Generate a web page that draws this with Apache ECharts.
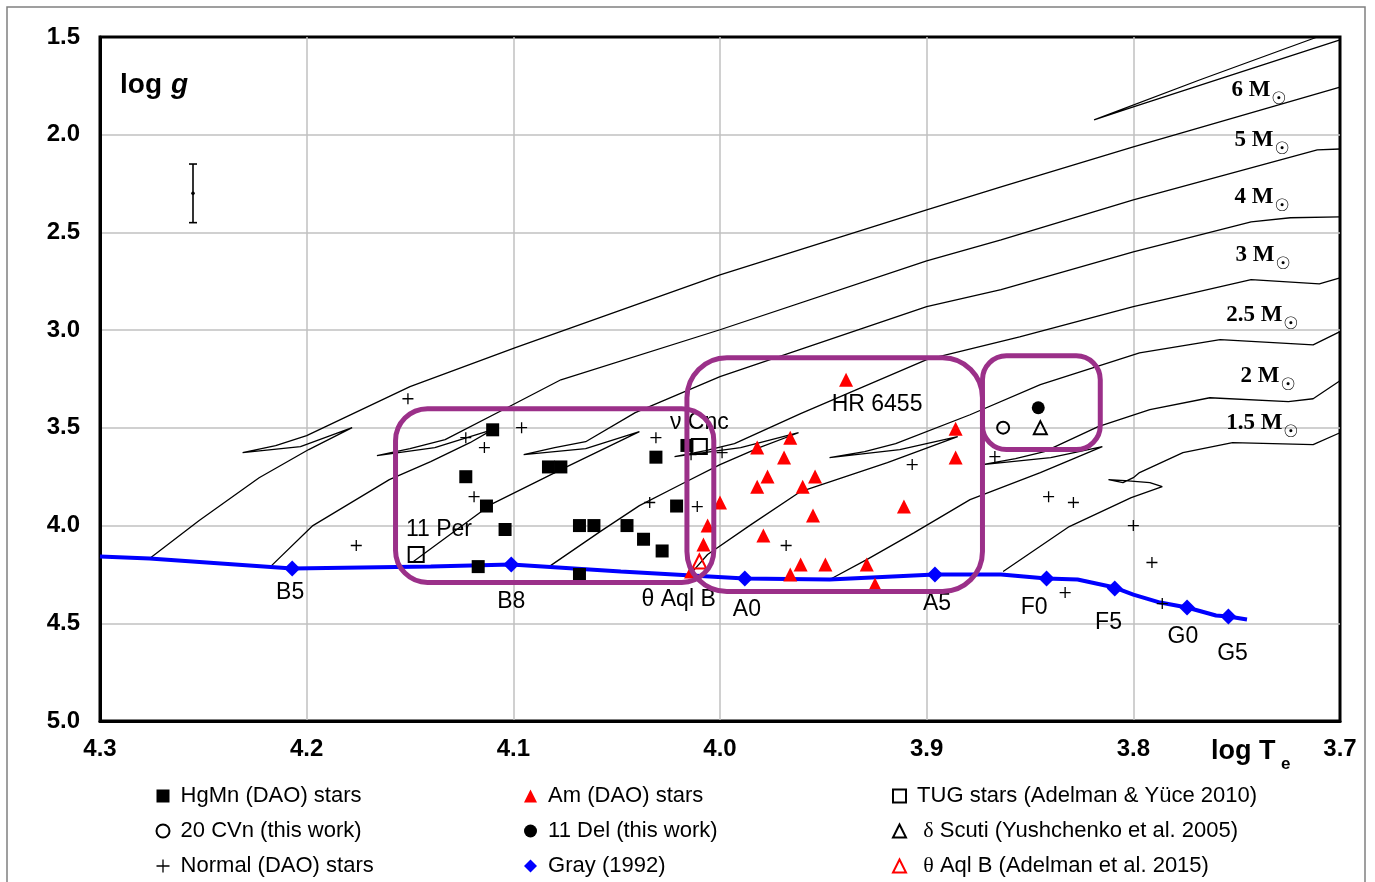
<!DOCTYPE html>
<html><head><meta charset="utf-8">
<script src="https://cdn.jsdelivr.net/npm/echarts@6/dist/echarts.min.js"></script>
<style>html,body{margin:0;padding:0;background:#fff}#c{width:1375px;height:882px}</style>
</head><body><div id="c"></div>
<script>
// ---------- data (x = log Te, y = log g) ----------
const hgmnStars = [[4.110,3.51],[4.123,3.75],[4.113,3.90],[4.104,4.02],[4.117,4.21],[4.083,3.70],[4.077,3.70],[4.068,4.00],[4.061,4.00],[4.068,4.25],[4.031,3.65],[4.021,3.90],[4.045,4.00],[4.037,4.07],[4.028,4.13],[4.016,3.59]];
const amStars = [[3.939,3.254],[3.982,3.601],[3.966,3.550],[3.969,3.652],[3.977,3.749],[3.982,3.801],[3.954,3.749],[3.960,3.801],[4.000,3.882],[3.955,3.949],[3.911,3.903],[3.886,3.504],[3.886,3.652],[4.006,4.000],[4.008,4.097],[3.979,4.051],[3.961,4.199],[3.949,4.199],[3.966,4.250],[3.929,4.199],[3.925,4.302],[4.014,4.235]];
const normalStars = [[4.151,3.351],[4.176,4.102],[4.123,3.550],[4.114,3.601],[4.096,3.499],[4.119,3.852],[4.031,3.550],[4.034,3.882],[4.011,3.903],[4.014,3.637],[3.999,3.627],[3.968,4.102],[3.907,3.688],[3.867,3.647],[3.841,3.852],[3.829,3.882],[3.800,4.000],[3.791,4.189],[3.833,4.343],[3.786,4.399]];
const tugStars = [[4.147,4.148],[4.010,3.596]];
const cvn20 = [[3.863,3.499]];
const del11 = [[3.846,3.397]];
const deltaScuti = [[3.845,3.499]];
const thetaAqlB = [[4.010,4.184]];
const grayTypes = [[4.207,4.220],[4.101,4.199],[3.988,4.271],[3.896,4.250],[3.842,4.271],[3.809,4.322],[3.774,4.419],[3.754,4.465]];
const grayTypeNames = ['B5','B8','A0','A5','F0','F5','G0','G5'];
const grayTypeLabelPos = [[4.208,4.343],[4.101,4.389],[3.987,4.429],[3.895,4.399],[3.848,4.419],[3.812,4.496],[3.776,4.567],[3.752,4.654]];
const grayLine = [[4.300,4.158],[4.276,4.169],[4.207,4.220],[4.140,4.210],[4.101,4.199],[4.048,4.235],[3.988,4.271],[3.947,4.276],[3.896,4.250],[3.864,4.250],[3.842,4.271],[3.827,4.276],[3.809,4.317],[3.800,4.353],[3.787,4.394],[3.774,4.419],[3.760,4.460],[3.754,4.465],[3.745,4.481]];
const track6 = [[4.276,4.169],[4.252,3.974],[4.223,3.755],[4.199,3.611],[4.178,3.499],[4.203,3.596],[4.231,3.627],[4.215,3.591],[4.200,3.540],[4.150,3.289],[4.099,3.090],[4.000,2.717],[3.900,2.384],[3.864,2.267],[3.800,2.062],[3.700,1.756]];
const track6Loop = [[3.700,1.515],[3.800,1.858],[3.819,1.924],[3.768,1.720],[3.711,1.500]];
const track5 = [[4.217,4.205],[4.197,4.000],[4.160,3.765],[4.140,3.673],[4.121,3.576],[4.110,3.509],[4.138,3.601],[4.166,3.642],[4.150,3.606],[4.133,3.560],[4.104,3.402],[4.077,3.254],[4.000,2.998],[3.900,2.645],[3.864,2.538],[3.800,2.333],[3.711,2.078],[3.700,2.073]];
const track4 = [[4.149,4.189],[4.111,3.893],[4.074,3.698],[4.039,3.519],[4.065,3.606],[4.095,3.637],[4.080,3.601],[4.065,3.571],[4.041,3.422],[4.000,3.238],[3.900,2.880],[3.864,2.793],[3.800,2.599],[3.743,2.446],[3.724,2.425],[3.700,2.420]];
const track3 = [[4.082,4.205],[4.058,4.031],[4.039,3.898],[4.019,3.790],[4.000,3.688],[3.981,3.601],[3.962,3.525],[3.990,3.601],[4.022,3.647],[4.007,3.617],[3.993,3.581],[3.961,3.427],[3.900,3.151],[3.855,3.034],[3.800,2.880],[3.743,2.742],[3.710,2.763],[3.700,2.732]];
const track25 = [[4.015,4.256],[4.006,4.148],[3.985,3.995],[3.961,3.826],[3.919,3.678],[3.885,3.545],[3.913,3.611],[3.947,3.652],[3.930,3.622],[3.915,3.581],[3.879,3.433],[3.845,3.279],[3.797,3.116],[3.758,3.049],[3.713,3.075],[3.700,3.008]];
const track2 = [[3.946,4.271],[3.929,4.174],[3.906,4.036],[3.879,3.867],[3.845,3.729],[3.815,3.596],[3.840,3.652],[3.873,3.688],[3.857,3.657],[3.843,3.622],[3.817,3.494],[3.792,3.407],[3.763,3.346],[3.725,3.366],[3.713,3.351],[3.700,3.259]];
const track15 = [[3.863,4.235],[3.831,4.005],[3.801,3.857],[3.786,3.801],[3.792,3.780],[3.804,3.770],[3.812,3.765],[3.805,3.780],[3.800,3.755],[3.797,3.729],[3.776,3.627],[3.752,3.576],[3.713,3.586],[3.700,3.525]];
const massNames = ['6','5','4','3','2.5','2','1.5'];
const massLabelPos = [[3.7337,1.774],[3.7322,2.029],[3.7322,2.321],[3.7317,2.617],[3.7279,2.924],[3.7293,3.236],[3.7279,3.476]];
const starLabels = [[4.136,4.020,'11 Per'],[3.924,3.381,'HR 6455'],[4.010,3.473,'ν Cnc'],[4.020,4.378,'θ Aql B']];
const boxes = [[[4.157,3.402],[4.003,4.291],32],[[4.016,3.141],[3.873,4.337],40],[[3.873,3.131],[3.816,3.611],24]];
const errBar = [[4.255,2.15,2.45,2.30]];
const xTickLabels = ['3.7','3.8','3.9','4.0','4.1','4.2','4.3'];
const yTickLabels = ['1.5','2.0','2.5','3.0','3.5','4.0','4.5','5.0'];

// ---------- chart ----------
const SANS = '"Liberation Sans", Arial, sans-serif';
const SERIF = '"Liberation Serif", "Times New Roman", serif';
const PLUS = 'path://M0,5L10,5M5,0L5,10';
const chart = echarts.init(document.getElementById('c'));

function track(name, data, z) {
  return {name, type:'line', data, symbol:'none', silent:true, z:z||1,
    lineStyle:{color:'#000', width:1.3, opacity:1}};
}
function pts(name, data, symbol, size, itemStyle, z) {
  return {name, type:'scatter', data, symbol, symbolSize:size,
    itemStyle:Object.assign({opacity:1}, itemStyle), z:z||4, silent:true};
}
const legendText = {fontFamily:SANS, fontSize:22, color:'#000', lineHeight:22,
  rich:{g:{fontFamily:SERIF, fontSize:22, color:'#000', lineHeight:22}}};
const legendFmt = n => {
  if (n.startsWith('δ')) return '  {g|δ}' + n.slice(1);
  if (n.startsWith('θ')) return '  {g|θ}' + n.slice(1);
  return ' ' + n;
};
function legend(left, items) {
  items.forEach(it => { it.itemStyle.opacity = 1; });
  return {orient:'vertical', left, top:785, padding:0, itemWidth:13, itemHeight:13, itemGap:13,
    selectedMode:false, textStyle:legendText, formatter:legendFmt, data:items};
}

const option = {
  animation:false,
  backgroundColor:'#fff',
  grid:{left:100, right:35, top:37, bottom:161, show:true, borderColor:'#000', borderWidth:3,
    backgroundColor:'rgba(0,0,0,0)', outerBoundsMode:'none'},
  xAxis:{type:'value', min:3.7, max:4.3, interval:0.1, inverse:true,
    axisLine:{show:true, lineStyle:{color:'#000', width:3}}, axisTick:{show:false},
    splitLine:{show:true, showMinLine:false, showMaxLine:false, lineStyle:{color:'#c0c0c0', width:1.5}},
    axisLabel:{margin:16, fontFamily:SANS, fontWeight:'bold', fontSize:24, color:'#000',
      formatter:v=>xTickLabels[Math.round((v-3.7)*10)]}},
  yAxis:{type:'value', min:1.5, max:5.0, interval:0.5, inverse:true,
    axisLine:{show:true, lineStyle:{color:'#000', width:3}}, axisTick:{show:false},
    splitLine:{show:true, showMinLine:false, showMaxLine:false, lineStyle:{color:'#c0c0c0', width:1.5}},
    axisLabel:{margin:20, fontFamily:SANS, fontWeight:'bold', fontSize:24, color:'#000',
      formatter:v=>yTickLabels[Math.round((v-1.5)*2)]}},
  legend:[
    legend(154, [
      {name:'HgMn (DAO) stars', icon:'rect', itemStyle:{color:'#000'}},
      {name:'20 CVn (this work)', icon:'circle', itemStyle:{color:'#fff', borderColor:'#000', borderWidth:2}},
      {name:'Normal (DAO) stars', icon:PLUS, itemStyle:{color:'none', borderColor:'#000', borderWidth:1.3}}]),
    legend(524, [
      {name:'Am (DAO) stars', icon:'triangle', itemStyle:{color:'#ff0000'}},
      {name:'11 Del (this work)', icon:'circle', itemStyle:{color:'#000'}},
      {name:'Gray (1992)', icon:'diamond', itemStyle:{color:'#0000ff'}}]),
    legend(892, [
      {name:'TUG stars (Adelman & Yüce 2010)', icon:'rect', itemStyle:{color:'#fff', borderColor:'#000', borderWidth:2}},
      {name:'δ Scuti (Yushchenko et al. 2005)', icon:'triangle', itemStyle:{color:'#fff', borderColor:'#000', borderWidth:2}},
      {name:'θ Aql B (Adelman et al. 2015)', icon:'triangle', itemStyle:{color:'#fff', borderColor:'#ff0000', borderWidth:2}}])
  ],
  series:[
    track('6 Msun', track6), track('6 Msun loop', track6Loop), track('5 Msun', track5),
    track('4 Msun', track4), track('3 Msun', track3), track('2.5 Msun', track25),
    track('2 Msun', track2), track('1.5 Msun', track15),
    {name:'Gray line', type:'line', data:grayLine, symbol:'none', silent:true, z:2,
      lineStyle:{color:'#0000ff', width:4, opacity:1}},
    pts('Gray (1992)', grayTypes, 'diamond', 16, {color:'#0000ff'}, 3),
    pts('Normal (DAO) stars', normalStars, PLUS, 11, {color:'none', borderColor:'#000', borderWidth:1.3}),
    pts('HgMn (DAO) stars', hgmnStars, 'rect', 13, {color:'#000'}),
    pts('Am (DAO) stars', amStars, 'triangle', 14, {color:'#ff0000'}),
    pts('TUG stars (Adelman & Yüce 2010)', tugStars, 'rect', 15, {color:'rgba(255,255,255,0)', borderColor:'#000', borderWidth:2}),
    pts('20 CVn (this work)', cvn20, 'circle', 12, {color:'rgba(255,255,255,0)', borderColor:'#000', borderWidth:2}),
    pts('11 Del (this work)', del11, 'circle', 13, {color:'#000'}),
    pts('δ Scuti (Yushchenko et al. 2005)', deltaScuti, 'triangle', 13, {color:'rgba(255,255,255,0)', borderColor:'#000', borderWidth:2}),
    pts('θ Aql B (Adelman et al. 2015)', thetaAqlB, 'triangle', 14, {color:'rgba(255,255,255,0)', borderColor:'#ff0000', borderWidth:2}),
    {name:'error bar', type:'custom', data:errBar, silent:true, z:4,
      renderItem:(params, api)=>{
        const t = api.coord([api.value(0), api.value(1)]);
        const b = api.coord([api.value(0), api.value(2)]);
        const m = api.coord([api.value(0), api.value(3)]);
        const st = {stroke:'#000', lineWidth:1.6};
        return {type:'group', children:[
          {type:'line', shape:{x1:t[0],y1:t[1],x2:b[0],y2:b[1]}, style:st},
          {type:'line', shape:{x1:t[0]-4,y1:t[1],x2:t[0]+4,y2:t[1]}, style:st},
          {type:'line', shape:{x1:b[0]-4,y1:b[1],x2:b[0]+4,y2:b[1]}, style:st},
          {type:'circle', shape:{cx:m[0],cy:m[1],r:1.8}, style:{fill:'#000'}}
        ]};
      }}
  ]
};
chart.setOption(option);

// annotations placed through the chart's own coordinate system
const toPx = p => chart.convertToPixel({xAxisIndex:0, yAxisIndex:0}, p);
const gfx = [];
const txt = (x, y, text, font, align, z) => ({type:'text', silent:true, z:z||20, x, y,
  style:{text, font, fill:'#000', align:align||'center', verticalAlign:'middle'}});
gfx.push({type:'rect', silent:true, z:0, shape:{x:7, y:7, width:1358, height:890},
  style:{fill:'none', stroke:'#808080', lineWidth:1.5}});
grayTypeLabelPos.forEach((p,i) => { const q = toPx(p); gfx.push(txt(q[0], q[1], grayTypeNames[i], '23px '+SANS, 'center', 5)); });
starLabels.forEach(s => { const q = toPx([s[0], s[1]]); gfx.push(txt(q[0], q[1], s[2], '23px '+SANS, 'center', 5)); });
boxes.forEach(b => {
  const a = toPx(b[0]), c = toPx(b[1]);
  gfx.push({type:'rect', silent:true, z:20,
    shape:{x:Math.min(a[0],c[0]), y:Math.min(a[1],c[1]), width:Math.abs(c[0]-a[0]), height:Math.abs(c[1]-a[1]), r:b[2]},
    style:{fill:'none', stroke:'#9b3089', lineWidth:5}});
});
massNames.forEach((m,i) => {
  const p = toPx(massLabelPos[i]);
  gfx.push(txt(p[0], p[1], m+' M', 'bold 23px '+SERIF, 'right'));
  gfx.push(txt(p[0]+1, p[1]+9, '☉', '17px "DejaVu Sans"', 'left'));
});
gfx.push(txt(120, 85, 'log', 'bold 28px '+SANS, 'left'));
gfx.push(txt(171, 85, 'g', 'italic bold 28px '+SANS, 'left'));
gfx.push(txt(1211, 752, 'log T', 'bold 27px '+SANS, 'left'));
gfx.push(txt(1281, 764, 'e', 'bold 17px '+SANS, 'left'));
chart.setOption({graphic:gfx});
</script>
</body></html>
